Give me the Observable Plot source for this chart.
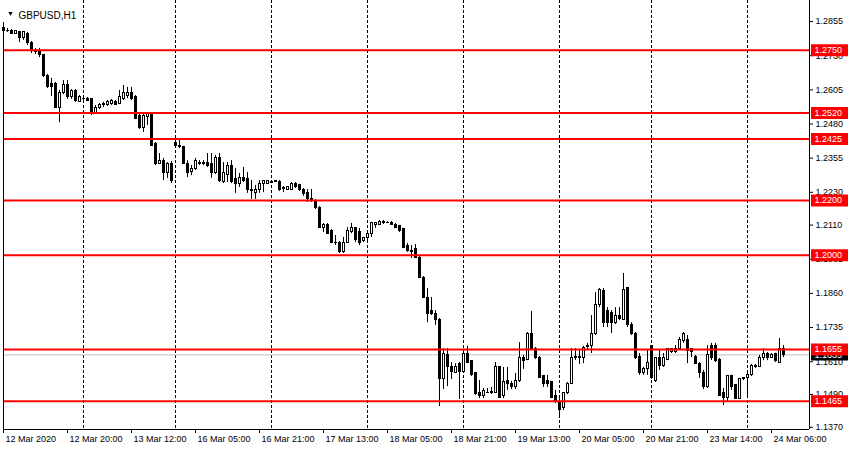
<!DOCTYPE html>
<html><head><meta charset="utf-8">
<script src="https://cdn.jsdelivr.net/npm/d3@7"></script>
<script src="https://cdn.jsdelivr.net/npm/@observablehq/plot@0.6"></script>
<style>
html,body{margin:0;padding:0;background:#fff;}
#chart svg{display:block;}
</style></head><body><div id="chart"></div>
<script>
const symbol = "GBPUSD,H1";

const opens = [
1.2833,1.2822,1.2819,1.2811,1.2815,1.2793,1.2811,1.2775,1.2745,1.2749,
1.2731,1.2654,1.2628,1.2625,1.2540,1.2595,1.2621,1.2577,1.2599,1.2562,
1.2573,1.2573,1.2570,1.2518,1.2540,1.2548,1.2551,1.2555,1.2559,1.2555,
1.2570,1.2581,1.2592,1.2577,1.2511,1.2467,1.2504,1.2515,1.2405,1.2335,
1.2346,1.2302,1.2335,1.2412,1.2401,1.2394,1.2335,1.2306,1.2317,1.2339,
1.2339,1.2339,1.2332,1.2299,1.2357,1.2266,1.2295,1.2328,1.2277,1.2262,
1.2281,1.2277,1.2240,1.2229,1.2240,1.2259,1.2262,1.2266,1.2270,1.2266,
1.2244,1.2240,1.2240,1.2262,1.2255,1.2240,1.2229,1.2207,1.2200,1.2174,
1.2101,1.2112,1.2090,1.2046,1.2046,1.2010,1.2046,1.2083,1.2098,1.2083,
1.2050,1.2061,1.2079,1.2109,1.2112,1.2123,1.2119,1.2119,1.2112,1.2105,
1.2094,1.2032,1.2017,1.2021,1.1991,1.1918,1.1845,1.1794,1.1786,1.1764,
1.1545,1.1636,1.1589,1.1570,1.1600,1.1574,1.1640,1.1611,1.1567,1.1494,
1.1483,1.1497,1.1497,1.1497,1.1589,1.1486,1.1541,1.1530,1.1516,1.1541,
1.1625,1.1618,1.1713,1.1658,1.1625,1.1556,1.1538,1.1534,1.1486,1.1461,
1.1439,1.1494,1.1530,1.1622,1.1629,1.1625,1.1666,1.1666,1.1713,1.1816,
1.1867,1.1794,1.1790,1.1750,1.1779,1.1764,1.1878,1.1743,1.1713,1.1629,
1.1567,1.1585,1.1666,1.1541,1.1622,1.1596,1.1618,1.1644,1.1644,1.1655,
1.1684,1.1691,1.1655,1.1629,1.1603,1.1570,1.1516,1.1666,1.1666,1.1618,
1.1494,1.1479,1.1556,1.1523,1.1475,1.1549,1.1549,1.1560,1.1592,1.1592,
1.1622,1.1640,1.1625,1.1640,1.1607,1.1658];

const highs = [
1.2841,1.2830,1.2826,1.2822,1.2819,1.2819,1.2815,1.2782,1.2756,1.2756,
1.2734,1.2661,1.2647,1.2632,1.2603,1.2639,1.2639,1.2606,1.2606,1.2584,
1.2577,1.2577,1.2573,1.2548,1.2555,1.2559,1.2566,1.2570,1.2566,1.2603,
1.2621,1.2614,1.2614,1.2584,1.2518,1.2518,1.2522,1.2522,1.2412,1.2372,
1.2354,1.2339,1.2343,1.2423,1.2420,1.2398,1.2346,1.2328,1.2354,1.2346,
1.2346,1.2372,1.2372,1.2365,1.2372,1.2339,1.2339,1.2346,1.2317,1.2299,
1.2321,1.2302,1.2273,1.2255,1.2273,1.2273,1.2273,1.2270,1.2273,1.2273,
1.2251,1.2251,1.2266,1.2266,1.2259,1.2244,1.2240,1.2240,1.2204,1.2178,
1.2116,1.2116,1.2094,1.2072,1.2050,1.2065,1.2101,1.2116,1.2101,1.2098,
1.2065,1.2083,1.2119,1.2119,1.2127,1.2127,1.2123,1.2123,1.2116,1.2109,
1.2098,1.2043,1.2035,1.2039,1.1995,1.1922,1.1878,1.1845,1.1797,1.1768,
1.1658,1.1658,1.1607,1.1603,1.1607,1.1651,1.1666,1.1614,1.1570,1.1541,
1.1512,1.1512,1.1516,1.1607,1.1592,1.1589,1.1589,1.1538,1.1567,1.1680,
1.1633,1.1717,1.1794,1.1662,1.1629,1.1560,1.1560,1.1538,1.1505,1.1475,
1.1497,1.1534,1.1658,1.1658,1.1651,1.1666,1.1677,1.1779,1.1863,1.1878,
1.1878,1.1808,1.1797,1.1808,1.1808,1.1933,1.1882,1.1753,1.1717,1.1640,
1.1589,1.1651,1.1669,1.1625,1.1655,1.1640,1.1658,1.1658,1.1669,1.1699,
1.1717,1.1706,1.1658,1.1633,1.1607,1.1578,1.1669,1.1677,1.1677,1.1622,
1.1512,1.1560,1.1560,1.1527,1.1549,1.1552,1.1567,1.1600,1.1600,1.1633,
1.1658,1.1644,1.1640,1.1641,1.1695,1.1669];

const lows = [
1.2811,1.2815,1.2808,1.2808,1.2778,1.2786,1.2767,1.2738,1.2734,1.2723,
1.2650,1.2610,1.2581,1.2537,1.2485,1.2588,1.2570,1.2570,1.2559,1.2559,
1.2566,1.2562,1.2511,1.2515,1.2533,1.2540,1.2544,1.2548,1.2548,1.2551,
1.2566,1.2573,1.2566,1.2496,1.2460,1.2449,1.2475,1.2398,1.2328,1.2332,
1.2273,1.2281,1.2262,1.2394,1.2390,1.2332,1.2284,1.2291,1.2310,1.2328,
1.2328,1.2321,1.2281,1.2295,1.2266,1.2262,1.2266,1.2262,1.2226,1.2248,
1.2266,1.2226,1.2204,1.2204,1.2226,1.2229,1.2259,1.2262,1.2266,1.2233,
1.2229,1.2237,1.2237,1.2244,1.2233,1.2215,1.2193,1.2193,1.2167,1.2098,
1.2083,1.2076,1.2043,1.2035,1.2006,1.2006,1.2043,1.2079,1.2046,1.2035,
1.2046,1.2054,1.2065,1.2098,1.2109,1.2112,1.2116,1.2109,1.2098,1.2083,
1.2024,1.2010,1.1988,1.1988,1.1914,1.1841,1.1753,1.1779,1.1743,1.1446,
1.1508,1.1519,1.1545,1.1567,1.1472,1.1570,1.1603,1.1556,1.1486,1.1475,
1.1475,1.1494,1.1490,1.1494,1.1475,1.1475,1.1505,1.1508,1.1508,1.1534,
1.1582,1.1614,1.1651,1.1618,1.1549,1.1516,1.1516,1.1475,1.1457,1.1402,
1.1431,1.1490,1.1527,1.1614,1.1600,1.1603,1.1651,1.1640,1.1706,1.1808,
1.1735,1.1735,1.1713,1.1746,1.1761,1.1761,1.1735,1.1706,1.1618,1.1560,
1.1560,1.1560,1.1545,1.1534,1.1578,1.1589,1.1614,1.1640,1.1640,1.1651,
1.1677,1.1603,1.1625,1.1600,1.1549,1.1508,1.1512,1.1614,1.1607,1.1483,
1.1450,1.1461,1.1505,1.1472,1.1472,1.1541,1.1486,1.1556,1.1585,1.1589,
1.1614,1.1614,1.1624,1.1607,1.1606,1.1625];

const closes = [
1.2819,1.2821,1.2811,1.2819,1.2793,1.2815,1.2775,1.2749,1.2742,1.2731,
1.2654,1.2617,1.2617,1.2540,1.2595,1.2621,1.2577,1.2599,1.2566,1.2577,
1.2570,1.2566,1.2518,1.2540,1.2551,1.2555,1.2559,1.2566,1.2551,1.2577,
1.2592,1.2592,1.2570,1.2500,1.2467,1.2511,1.2518,1.2401,1.2335,1.2346,
1.2302,1.2335,1.2270,1.2401,1.2394,1.2335,1.2302,1.2317,1.2343,1.2335,
1.2332,1.2328,1.2299,1.2357,1.2270,1.2299,1.2328,1.2266,1.2262,1.2281,
1.2273,1.2237,1.2233,1.2237,1.2262,1.2270,1.2270,1.2265,1.2269,1.2240,
1.2243,1.2248,1.2262,1.2251,1.2237,1.2222,1.2207,1.2200,1.2171,1.2101,
1.2109,1.2079,1.2046,1.2043,1.2010,1.2046,1.2087,1.2098,1.2054,1.2046,
1.2061,1.2076,1.2116,1.2116,1.2123,1.2116,1.2118,1.2112,1.2101,1.2087,
1.2028,1.2017,1.2013,1.1991,1.1918,1.1845,1.1786,1.1786,1.1761,1.1545,
1.1640,1.1589,1.1574,1.1592,1.1574,1.1640,1.1607,1.1560,1.1490,1.1486,
1.1501,1.1496,1.1498,1.1589,1.1479,1.1534,1.1527,1.1516,1.1541,1.1625,
1.1614,1.1713,1.1658,1.1622,1.1552,1.1530,1.1530,1.1479,1.1461,1.1435,
1.1494,1.1530,1.1622,1.1629,1.1622,1.1662,1.1665,1.1713,1.1816,1.1871,
1.1753,1.1753,1.1750,1.1779,1.1768,1.1874,1.1743,1.1713,1.1622,1.1567,
1.1585,1.1607,1.1549,1.1622,1.1596,1.1622,1.1655,1.1655,1.1658,1.1691,
1.1710,1.1651,1.1644,1.1603,1.1567,1.1516,1.1633,1.1625,1.1614,1.1486,
1.1479,1.1556,1.1519,1.1475,1.1545,1.1548,1.1560,1.1596,1.1593,1.1622,
1.1640,1.1625,1.1636,1.1611,1.1658,1.1635];

// time axis labels (bar index of each label) and day separators (bar index)
const xTickBars = [0,16,32,48,64,80,96,112,128,144,160,176,192];
const xTickLabels = ["12 Mar 2020","12 Mar 20:00","13 Mar 12:00","16 Mar 05:00","16 Mar 21:00","17 Mar 13:00","18 Mar 05:00","18 Mar 21:00","19 Mar 13:00","20 Mar 05:00","20 Mar 21:00","23 Mar 14:00","24 Mar 06:00"];
const daySeparators = [20,43,67,91,115,139,162,186];

const yTicks = [1.2855,1.2730,1.2605,1.2480,1.2355,1.2230,1.2110,1.1985,1.1860,1.1735,1.1610,1.1490,1.1370];
const levels = [1.2750,1.2520,1.2425,1.2200,1.2000,1.1655,1.1465];
const bid = 1.1635;

const candles = opens.map((o, i) => ({i, o, h: highs[i], l: lows[i], c: closes[i], up: closes[i] >= o}));

const xDomain = [0, 201.5];
const yDomain = [1.13619, 1.2932];
const fmt = d3.format(".4f");
const boxX1 = xDomain[1] + 0.5, boxX2 = xDomain[1] + 9.75;
// left border starts just below the title row
const leftTop = yDomain[1] - 22 * (yDomain[1] - yDomain[0]) / 429;

const chart = Plot.plot({
  width: 850, height: 450,
  marginTop: 0, marginRight: 41, marginBottom: 21, marginLeft: 3,
  x: {type: "linear", domain: xDomain, axis: null},
  y: {domain: yDomain, axis: null},
  style: {fontFamily: "'Liberation Sans', Arial, sans-serif", fontSize: "9px", background: "#fff", color: "#000", overflow: "visible"},
  marks: [
    Plot.ruleX(daySeparators, {stroke: "#000", strokeDasharray: "3,2", strokeWidth: 1}),
    Plot.ruleY([bid], {stroke: "#c0c0c0", strokeWidth: 1}),
    Plot.ruleX(candles, {x: "i", y1: "l", y2: "h", stroke: "#000", strokeWidth: 1}),
    Plot.rect(candles, {
      x1: d => d.i - 0.25, x2: d => d.i + 0.25,
      y1: d => Math.min(d.o, d.c), y2: d => Math.max(d.o, d.c),
      fill: d => d.up ? "#fff" : "#000", stroke: "#000", strokeWidth: 1,
      shapeRendering: "crispEdges"
    }),
    Plot.ruleY(levels, {stroke: "#ff0000", strokeWidth: 2}),
    // frame lines
    Plot.ruleX([xDomain[1]], {stroke: "#000"}),
    Plot.ruleX([xDomain[0]], {y1: yDomain[0], y2: leftTop, stroke: "#000"}),
    Plot.ruleY([yDomain[0]], {stroke: "#000"}),
    // axes
    Plot.axisY(yTicks, {anchor: "right", tickSize: 3, tickPadding: 3, tickFormat: fmt, label: null, fontSize: 9}),
    Plot.axisX(xTickBars, {anchor: "bottom", tickSize: 4, fill: "none", label: null}),
    Plot.axisX(xTickBars, {anchor: "bottom", tickSize: 4, tickPadding: 2, stroke: "none", dx: 2, textAnchor: "start",
      tickFormat: d => xTickLabels[xTickBars.indexOf(d)], label: null, fontSize: 9}),
    // price labels
    Plot.ruleY([bid], {x1: boxX1, x2: boxX2, stroke: "#000", strokeWidth: 11}),
    Plot.text([bid], {x: xDomain[1], y: d => d, dx: 5, text: fmt, fill: "#fff", textAnchor: "start", fontSize: 9}),
    Plot.ruleY(levels, {x1: boxX1, x2: boxX2, stroke: "#ff0000", strokeWidth: 12}),
    Plot.text(levels, {x: xDomain[1], y: d => d, dx: 5, text: fmt, fill: "#fff", textAnchor: "start", fontSize: 9}),
    // title
    Plot.text(["\u25BC"], {frameAnchor: "top-left", dx: 7, dy: 11, fontSize: 7, fill: "#000", textAnchor: "middle"}),
    Plot.text([symbol], {frameAnchor: "top-left", dx: 15, dy: 11, fontSize: 10, fill: "#000", textAnchor: "start"})
  ]
});
document.getElementById("chart").appendChild(chart);
</script></body></html>
